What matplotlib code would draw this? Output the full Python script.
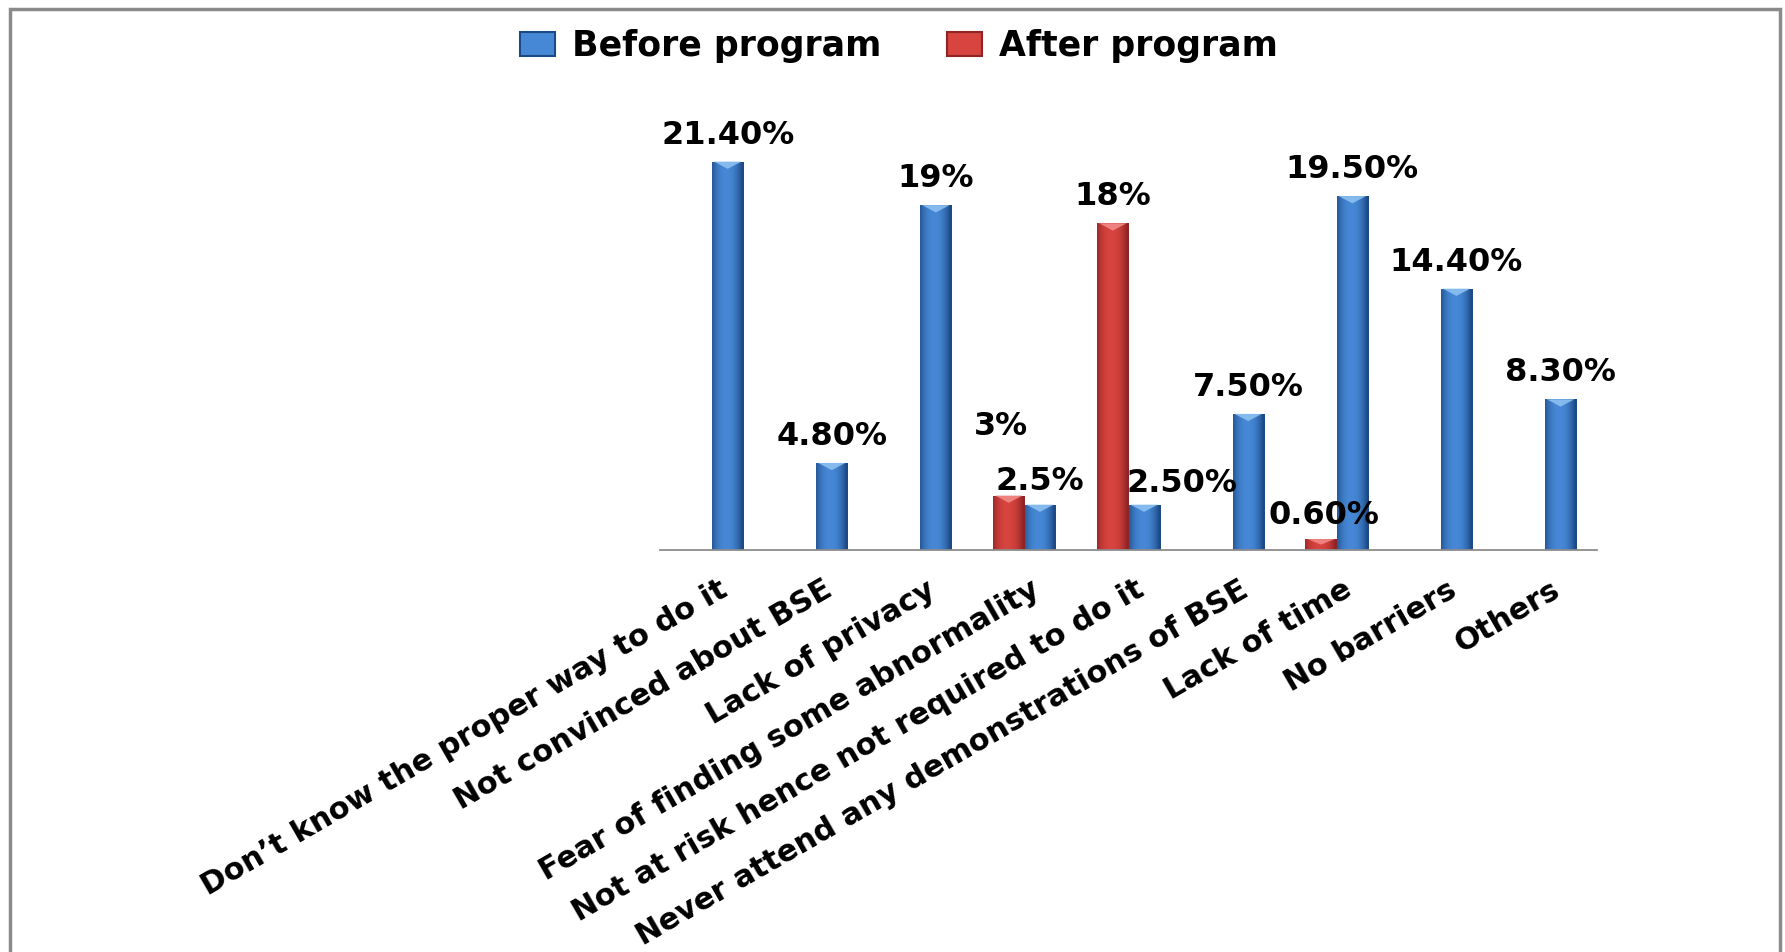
import numpy as np
import matplotlib
matplotlib.use("Agg")
import matplotlib.pyplot as plt
from matplotlib.patches import Patch, Rectangle, Polygon
from matplotlib.colors import to_rgb
import matplotlib.transforms as mtransforms

# ---------------- data ----------------
categories = [
    "Don\u2019t know the proper way to do it",
    "Not convinced about BSE",
    "Lack of privacy",
    "Fear of finding some abnormality",
    "Not at risk hence not required to do it",
    "Never attend any demonstrations of BSE",
    "Lack of time",
    "No barriers",
    "Others",
]
series_names = ["Before program", "After program"]
before_vals = [21.4, 4.8, 19.0, 2.5, 2.5, 7.5, 19.5, 14.4, 8.3]
after_vals = [np.nan, np.nan, np.nan, 3.0, 18.0, np.nan, 0.6, np.nan, np.nan]
before_labels = ["21.40%", "4.80%", "19%", "2.5%", "2.50%", "7.50%", "19.50%", "14.40%", "8.30%"]
after_labels = ["", "", "", "3%", "18%", "", "0.60%", "", ""]

# ---------------- style ----------------
W, H = 1785, 952
BLUE_DARK, BLUE_LIGHT, BLUE_TOP = "#1d4a86", "#4688d6", "#8cc0f0"
RED_DARK, RED_LIGHT, RED_TOP = "#8e2424", "#d8443f", "#f08a86"
FONT = "DejaVu Sans"

fig = plt.figure(figsize=(W / 100, H / 100), dpi=100)
fig.patch.set_facecolor("white")
ax = fig.add_axes([660 / W, (H - 550) / H, 937 / W, 25 * 18.15 / H])

x = np.arange(len(categories))
bw = 0.3
before = np.array(before_vals, dtype=float)
after = np.array(after_vals, dtype=float)
mb = ~np.isnan(before)
ma = ~np.isnan(after)

bars_b = ax.bar(x[mb] + bw / 2, before[mb], bw, color=BLUE_DARK, zorder=2, linewidth=0)
bars_a = ax.bar(x[ma] - bw / 2, after[ma], bw, color=RED_DARK, zorder=2, linewidth=0)


def shade(bars, dark, light, top):
    d = np.array(to_rgb(dark))
    l = np.array(to_rgb(light))
    t = np.linspace(-1, 1, 80)
    w = np.clip(1 - np.abs(t + 0.1) ** 2.2, 0, 1)
    img = (d[None, :] + (l - d)[None, :] * w[:, None])[None, :, :]
    for p in bars:
        x0, y0 = p.get_x(), p.get_y()
        bwid, bh = p.get_width(), p.get_height()
        im = ax.imshow(img, extent=(x0, x0 + bwid, y0, y0 + bh), aspect="auto",
                       zorder=2.1, interpolation="bilinear")
        im.set_clip_path(p)
        bev = min(0.4, bh * 0.5)
        poly = Polygon([(x0 + bwid * 0.06, y0 + bh), (x0 + bwid * 0.94, y0 + bh),
                        (x0 + bwid * 0.5, y0 + bh - bev)],
                       closed=True, facecolor=top, edgecolor="none", zorder=2.2, alpha=0.9)
        ax.add_patch(poly)


shade(bars_b, BLUE_DARK, BLUE_LIGHT, BLUE_TOP)
shade(bars_a, RED_DARK, RED_LIGHT, RED_TOP)

ax.set_xlim(-0.5, len(categories) - 0.5)
ax.set_ylim(0, 25)

# value labels
default_off = (0, 19)
special_b = {3: (0, 17), 4: (27, 15)}
special_a = {3: (-6, 50), 6: (2, 17)}
lbl_font = dict(family=FONT, weight="bold", size=23, color="black")
for i, p in zip(np.where(mb)[0], bars_b):
    off = special_b.get(i, default_off)
    ax.annotate(before_labels[i], (p.get_x() + p.get_width() / 2, p.get_height()),
                xytext=off, textcoords="offset points", ha="center", va="center",
                zorder=5, **lbl_font)
for i, p in zip(np.where(ma)[0], bars_a):
    off = special_a.get(i, default_off)
    ax.annotate(after_labels[i], (p.get_x() + p.get_width() / 2, p.get_height()),
                xytext=off, textcoords="offset points", ha="center", va="center",
                zorder=5, **lbl_font)

# axes styling
for s in ["top", "right", "left"]:
    ax.spines[s].set_visible(False)
ax.spines["bottom"].set_color("#8c8c8c")
ax.spines["bottom"].set_linewidth(1.3)
ax.set_yticks([])
ax.set_xticks(x)
ax.set_xticklabels(categories, rotation=30, ha="right", rotation_mode="anchor",
                   fontsize=22, fontweight="bold", family=FONT)
ax.tick_params(axis="x", length=0, pad=18)
shift = mtransforms.ScaledTranslation(6 / 100, 0, fig.dpi_scale_trans)
for lab in ax.get_xticklabels():
    lab.set_transform(lab.get_transform() + shift)
ax.set_facecolor("none")

# legend
handles = [Patch(facecolor=BLUE_LIGHT, edgecolor=BLUE_DARK, linewidth=1.5),
           Patch(facecolor=RED_LIGHT, edgecolor=RED_DARK, linewidth=1.5)]
fig.legend(handles, series_names, loc="center", bbox_to_anchor=(899 / W, 1 - 46 / H),
           ncol=2, frameon=False, prop=dict(family=FONT, weight="bold", size=25),
           handlelength=1.0, handleheight=0.7, columnspacing=1.9, handletextpad=0.5)

# outer frame
frame = Rectangle((10 / W, -0.05), 1770 / W, 1.05 - 9 / H, transform=fig.transFigure,
                  fill=False, edgecolor="#8a8a8a", linewidth=2.5, zorder=10)
fig.add_artist(frame)

fig.savefig("out.png", dpi=100, facecolor="white")
